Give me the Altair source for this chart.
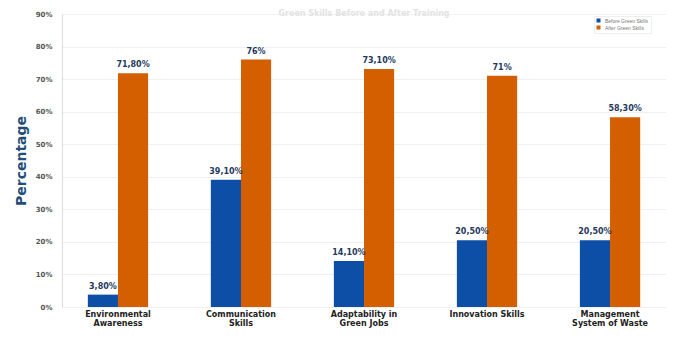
import altair as alt
import pandas as pd

categories = ["Environmental Awareness", "Communication Skills", "Adaptability in Green Jobs",
              "Innovation Skills", "Management System of Waste"]
label_lines = [["Environmental", "Awareness"], ["Communication", "Skills"], ["Adaptability in", "Green Jobs"],
               ["Innovation Skills"], ["Management", "System of Waste"]]
series = ["Before Green Skills", "After Green Skills"]
before = [3.80, 39.10, 14.10, 20.50, 20.50]
after = [71.80, 76.0, 73.10, 71.0, 58.30]
before_txt = ["3,80%", "39,10%", "14,10%", "20,50%", "20,50%"]
after_txt = ["71,80%", "76%", "73,10%", "71%", "58,30%"]
title_text = "Green Skills Before and After Training"

rows = []
for i, c in enumerate(categories):
    rows.append({"cat": c, "series": series[0], "value": before[i], "txt": before_txt[i], "o": 0})
    rows.append({"cat": c, "series": series[1], "value": after[i], "txt": after_txt[i], "o": 1})
df = pd.DataFrame(rows)

mapping = "{" + ",".join("'%s': [%s]" % (c, ",".join("'%s'" % s for s in l)) for c, l in zip(categories, label_lines)) + "}"

x = alt.X("cat:N", sort=categories, title=None,
          scale=alt.Scale(paddingInner=0.51, paddingOuter=0.21),
          axis=alt.Axis(labelAngle=0, labelExpr=mapping + "[datum.label]", labelFont="DejaVu Sans",
                        labelFontWeight="bold", labelFontSize=8, labelColor="#222222", labelPadding=3,
                        ticks=False, domain=False, labelLineHeight=9))
xo = alt.XOffset("series:N", sort=series, scale=alt.Scale(paddingInner=0))
y = alt.Y("value:Q", title="Percentage",
          scale=alt.Scale(domain=[0, 90], nice=False),
          axis=alt.Axis(values=list(range(0, 91, 10)), labelExpr="datum.value + '%'",
                        labelFont="DejaVu Sans", labelFontWeight="bold", labelFontSize=7,
                        labelColor="#555555", ticks=False, labelPadding=10,
                        domainColor="#dddddd", gridColor="#f0f0f0",
                        titleFont="DejaVu Sans", titleFontSize=14, titleFontWeight="bold",
                        titleColor="#1f4e79", titlePadding=7))

color = alt.Color("series:N", sort=series,
                  scale=alt.Scale(domain=series, range=["#0d4ea6", "#d45f00"]),
                  legend=alt.Legend(title=None, orient="none", legendX=532, legendY=2,
                                    symbolType="square", symbolSize=16, labelFontSize=5,
                                    labelColor="#777777", rowPadding=1, symbolStrokeWidth=0,
                                    padding=2, strokeColor="#eeeeee"))

base = alt.Chart(df)
bars = base.mark_bar().encode(x=x, xOffset=xo, y=y, color=color)
texts = base.mark_text(baseline="bottom", dy=-4, fontSize=8, fontWeight="bold",
                       font="DejaVu Sans", color="#1f3a60").encode(x=x, xOffset=xo, y=y, text="txt:N")
ttl = alt.Chart(pd.DataFrame({"t": [title_text]})).mark_text(
    baseline="bottom", fontSize=8, fontWeight="bold", font="DejaVu Sans", color="#e3e3e3"
).encode(x=alt.value(302), y=alt.value(4), text="t:N")

chart = alt.layer(bars, texts, ttl).properties(
    width=604, height=293,
    autosize=alt.AutoSizeParams(type="none"),
    padding={"left": 54, "top": 6, "right": 0, "bottom": 24},
).configure_view(stroke=None)

chart.save("out.html", embed_options={"renderer": "svg", "actions": False})
